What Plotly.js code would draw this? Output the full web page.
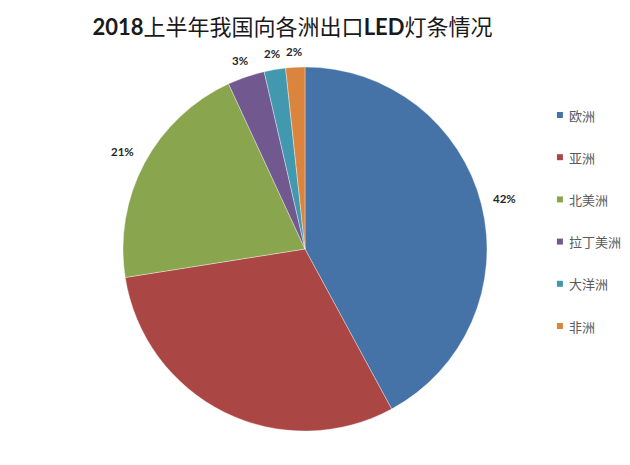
<!DOCTYPE html>
<html>
<head>
<meta charset="utf-8">
<script src="https://cdn.plot.ly/plotly-3.0.1.min.js"></script>
<style>
  html, body { margin: 0; padding: 0; background: #ffffff; }
  #chart { width: 630px; height: 465px; }
</style>
</head>
<body>
<div id="chart"></div>
<script>
// ---- data ----
const regions = ['欧洲', '亚洲', '北美洲', '拉丁美洲', '大洋洲', '非洲'];
const shares = [42.1, 30.4, 20.6, 3.3, 1.9, 1.7];
const showPct = [true, false, true, true, true, true];
const sliceColors = ['#4572A7', '#AA4643', '#89A54E', '#71588F', '#4198AF', '#DB843D'];
const chartTitle = '<b>2018</b>上半年我国向各洲出口<b>LED</b>灯条情况';

// ---- layout constants ----
const W = 630, H = 465;
const pieDomain = { x: [0.1952, 0.7730], y: [0.0731, 0.8559] };
const labelFont = { family: 'Lato, "Noto Sans CJK SC", sans-serif', size: 11.5, color: '#262626', weight: 'bold' };

// ---- chart ----
const trace = {
  type: 'pie',
  labels: regions,
  values: shares,
  sort: false,
  direction: 'clockwise',
  rotation: 0,
  marker: { colors: sliceColors, line: { color: 'rgba(255,255,255,0.6)', width: 0.6 } },
  textinfo: 'none',
  hoverinfo: 'label+percent',
  showlegend: false,
  domain: pieDomain
};

// percentage labels placed just outside each slice (derived from the shares)
const total = shares.reduce((a, b) => a + b, 0);
const cxPx = W * (pieDomain.x[0] + pieDomain.x[1]) / 2;
const cyUp = H * (pieDomain.y[0] + pieDomain.y[1]) / 2;
const rPx = Math.min(W * (pieDomain.x[1] - pieDomain.x[0]), H * (pieDomain.y[1] - pieDomain.y[0])) / 2;
const pctAnnotations = [];
let cum = 0;
shares.forEach((v, i) => {
  const theta = 2 * Math.PI * (cum + v / 2) / total;
  cum += v;
  if (!showPct[i]) return;
  const txt = Math.round(100 * v / total) + '%';
  const halfW = txt.length * 4.6, halfH = 5.5;
  const s = Math.sin(theta), c = Math.cos(theta);
  const dist = rPx + 9.5 + Math.abs(c) * halfH + Math.abs(s) * halfW;
  pctAnnotations.push({
    xref: 'paper', yref: 'paper',
    x: (cxPx + dist * s) / W, y: (cyUp + dist * c) / H,
    xanchor: 'center', yanchor: 'middle',
    text: txt, showarrow: false, font: labelFont
  });
});

const legendX = 0.884, legendY0 = 115, legendStep = 42.2;
const shapes = regions.map((r, i) => ({
  type: 'rect', xref: 'paper', yref: 'paper',
  x0: legendX, x1: legendX + 6 / W,
  y0: 1 - (legendY0 + i * legendStep + 3) / H,
  y1: 1 - (legendY0 + i * legendStep - 3) / H,
  fillcolor: sliceColors[i], line: { width: 0 }
}));
const legendAnnotations = regions.map((r, i) => ({
  xref: 'paper', yref: 'paper',
  x: legendX + 10 / W, y: 1 - (legendY0 + i * legendStep) / H,
  xanchor: 'left', yanchor: 'middle',
  text: r, showarrow: false,
  font: { family: '"Noto Sans CJK SC", sans-serif', size: 13, color: '#595959' }
}));

const layout = {
  width: W, height: H,
  margin: { l: 0, r: 0, t: 0, b: 0 },
  paper_bgcolor: '#ffffff',
  title: {
    text: chartTitle,
    x: 0.4643, xanchor: 'center',
    y: 1 - 27 / H, yanchor: 'middle',
    font: { family: 'Lato, "Noto Sans CJK SC", sans-serif', size: 22, color: '#1a1a1a' }
  },
  shapes: shapes,
  annotations: pctAnnotations.concat(legendAnnotations)
};

Plotly.newPlot('chart', [trace], layout, { displayModeBar: false, staticPlot: true });
</script>
</body>
</html>
